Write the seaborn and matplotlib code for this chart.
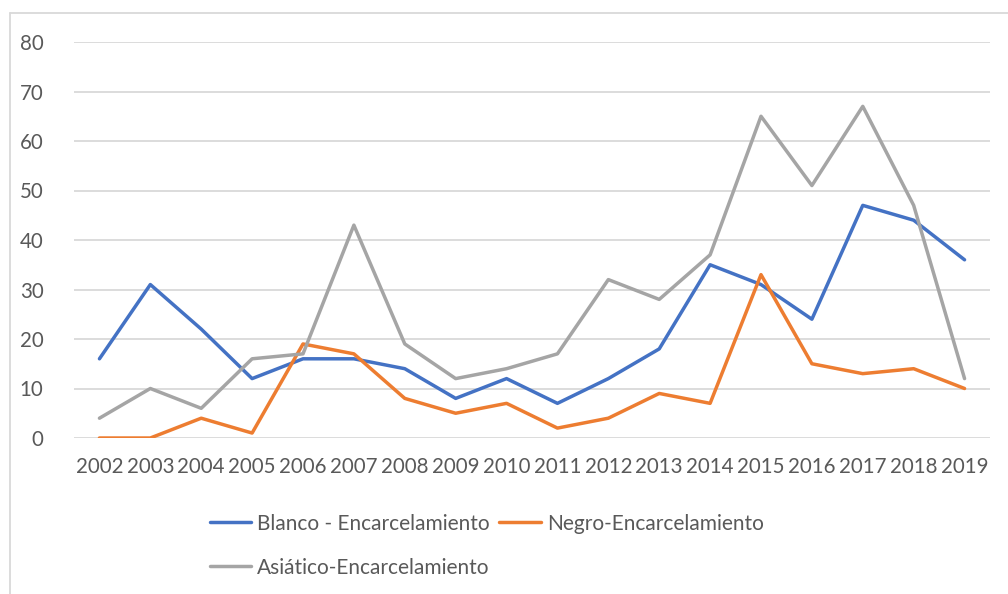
import matplotlib
matplotlib.use("Agg")
import matplotlib.pyplot as plt
import seaborn as sns
import pandas as pd
from matplotlib.lines import Line2D

years = [str(y) for y in range(2002, 2020)]
blanco = [16, 31, 22, 12, 16, 16, 14, 8, 12, 7, 12, 18, 35, 31, 24, 47, 44, 36]
negro = [0, 0, 4, 1, 19, 17, 8, 5, 7, 2, 4, 9, 7, 33, 15, 13, 14, 10]
asiatico = [4, 10, 6, 16, 17, 43, 19, 12, 14, 17, 32, 28, 37, 65, 51, 67, 47, 12]
series_names = ["Blanco - Encarcelamiento", "Negro-Encarcelamiento", "Asiático-Encarcelamiento"]
colors = ["#4472C4", "#ED7D31", "#A5A5A5"]
yticks = [0, 10, 20, 30, 40, 50, 60, 70, 80]

df = pd.DataFrame({
    "year": years * 3,
    "value": blanco + negro + asiatico,
    "series": [series_names[0]] * 18 + [series_names[1]] * 18 + [series_names[2]] * 18,
})

sns.set_style("white")
plt.rcParams["font.family"] = ["Lato", "DejaVu Sans"]
txt = "#595959"

fig = plt.figure(figsize=(10.08, 5.94), dpi=100)
ax = fig.add_axes([74 / 1008, 1 - 438 / 594, (990 - 74) / 1008, (438 - 42) / 594])

ax.set_axisbelow(True)
for y in yticks:
    ax.axhline(y, color="#D9D9D9", lw=1.3, zorder=0)

sns.lineplot(data=df, x="year", y="value", hue="series", hue_order=series_names,
             palette=colors, linewidth=2.5, ax=ax, legend=False, sort=False)
for ln in ax.get_lines():
    ln.set_solid_joinstyle("round")

ax.set_xlim(-0.5, len(years) - 0.5)
ax.set_ylim(0, 80)
ax.set_yticks(yticks)
ax.set_yticklabels([str(v) for v in yticks])
ax.set_xticks(range(len(years)))
ax.set_xticklabels(years)
ax.tick_params(axis="both", length=0, labelsize=14.8, labelcolor=txt)
ax.tick_params(axis="y", pad=22)
ax.tick_params(axis="x", pad=14)
ax.set_xlabel("")
ax.set_ylabel("")
for s in ax.spines.values():
    s.set_visible(False)

handles = [Line2D([0], [0], color=c, lw=2.5) for c in colors]
order = [0, 2, 1]
leg = fig.legend([handles[i] for i in order], [series_names[i] for i in order],
                 ncol=2, loc="upper left", bbox_to_anchor=(191 / 1008, 1 - 495 / 594),
                 frameon=False, fontsize=15, handlelength=2.0, handletextpad=0.28,
                 columnspacing=0.45, labelspacing=1.15, labelcolor=txt)

# chart outer border (partially cropped in reference)
fig.add_artist(Line2D([10 / 1008, 10 / 1008], [0, 1 - 13 / 594], color="#D9D9D9", lw=1.3, transform=fig.transFigure))
fig.add_artist(Line2D([10 / 1008, 1], [1 - 13 / 594, 1 - 13 / 594], color="#D9D9D9", lw=1.3, transform=fig.transFigure))

fig.savefig("out.png", dpi=100)
